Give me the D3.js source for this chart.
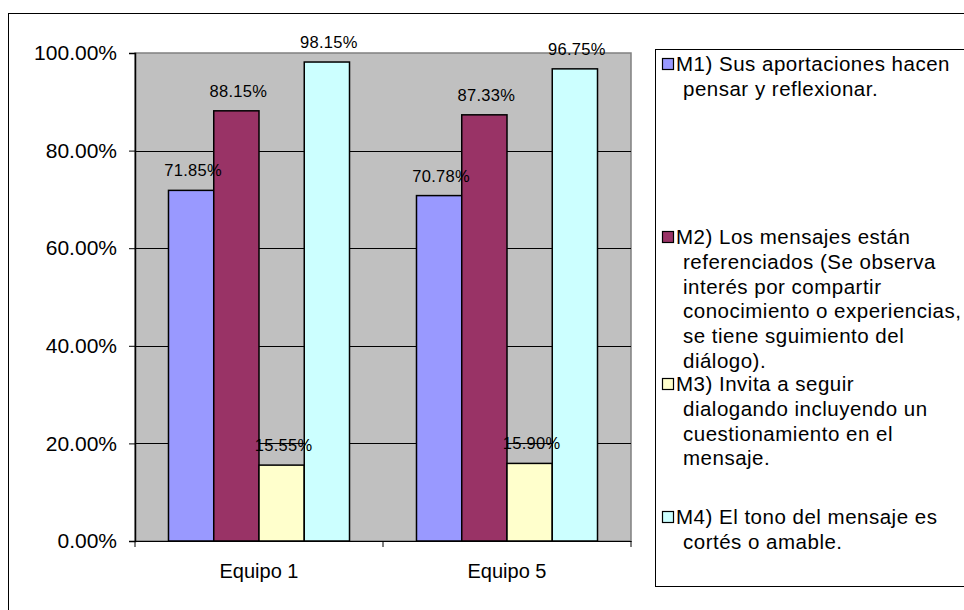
<!DOCTYPE html>
<html>
<head>
<meta charset="utf-8">
<script src="https://cdn.jsdelivr.net/npm/d3@7"></script>
<style>
  body { margin: 0; background: #fff; }
  text { font-family: Arial, "Liberation Sans", sans-serif; fill: #000; }
</style>
</head>
<body>
<svg width="964" height="610"></svg>
<script>
// datos del grafico
var equipos = ["Equipo 1", "Equipo 5"];
var series = ["M1", "M2", "M3", "M4"];
var m1 = [71.85, 70.78];
var m2 = [88.15, 87.33];
var m3 = [15.55, 15.90];
var m4 = [98.15, 96.75];
var ticks = [0, 20, 40, 60, 80, 100];
var leyenda = [
  ["M1) Sus aportaciones hacen", "pensar y reflexionar."],
  ["M2) Los mensajes están", "referenciados (Se observa", "interés por compartir",
   "conocimiento o experiencias,", "se tiene sguimiento del", "diálogo)."],
  ["M3) Invita a seguir", "dialogando incluyendo un", "cuestionamiento en el", "mensaje."],
  ["M4) El tono del mensaje es", "cortés o amable."]
];
var colores = ["#9999ff", "#993366", "#ffffcc", "#ccffff"];

var valores = [m1, m2, m3, m4];

var svg = d3.select("svg"),
  plot = { left: 135, top: 53, right: 631, bottom: 541 };

// marco exterior
svg.append("rect")
  .attr("x", 8.5).attr("y", 13.5)
  .attr("width", 1000).attr("height", 1000)
  .attr("fill", "#fff").attr("stroke", "#000").attr("stroke-width", 1);

var x0 = d3.scaleBand()
  .domain(equipos)
  .range([plot.left, plot.right]);

var x1 = d3.scaleBand()
  .domain(series)
  .range([0, x0.bandwidth()])
  .paddingOuter(0.74);

var y = d3.scaleLinear()
  .domain([0, 100])
  .range([plot.bottom, plot.top]);

// fondo gris
svg.append("rect")
  .attr("x", plot.left).attr("y", plot.top)
  .attr("width", plot.right - plot.left)
  .attr("height", plot.bottom - plot.top)
  .attr("fill", "#c0c0c0")
  .attr("stroke", "#808080").attr("stroke-width", 1.5);

// lineas de cuadricula
svg.append("g").selectAll("line")
  .data(ticks.filter(function(t){ return t > 0 && t < 100; }))
  .enter().append("line")
  .attr("x1", plot.left).attr("x2", plot.right)
  .attr("y1", function(d){ return Math.round(y(d)) + 0.5; })
  .attr("y2", function(d){ return Math.round(y(d)) + 0.5; })
  .attr("stroke", "#000").attr("stroke-width", 1);

// barras
var grupos = svg.append("g").selectAll("g")
  .data(equipos)
  .enter().append("g")
  .attr("transform", function(d){ return "translate(" + x0(d) + ",0)"; });

grupos.selectAll("rect")
  .data(function(d, i){
    return series.map(function(s, j){ return { s: s, v: valores[j][i], c: colores[j] }; });
  })
  .enter().append("rect")
  .attr("x", function(d){ return x1(d.s); })
  .attr("y", function(d){ return y(d.v); })
  .attr("width", x1.bandwidth())
  .attr("height", function(d){ return y(0) - y(d.v); })
  .attr("fill", function(d){ return d.c; })
  .attr("stroke", "#000").attr("stroke-width", 1.5);

grupos.selectAll("text")
  .data(function(d, i){
    return series.map(function(s, j){ return { s: s, v: valores[j][i] }; });
  })
  .enter().append("text")
  .attr("x", function(d){ return x1(d.s) + x1.bandwidth() / 2 + 2; })
  .attr("y", function(d){ return y(d.v) - 14; })
  .attr("text-anchor", "middle")
  .attr("font-size", 16.5)
  .attr("letter-spacing", 0.3)
  .attr("fill", "#000")
  .text(function(d){ return d.v.toFixed(2) + "%"; });

// eje y
var ejeY = svg.append("g")
  .attr("transform", "translate(" + plot.left + ",0)")
  .call(d3.axisLeft(y).tickValues(ticks).tickSize(6).tickPadding(12)
    .tickFormat(function(d){ return d.toFixed(2) + "%"; }));
ejeY.select(".domain").attr("stroke", "#000").attr("stroke-width", 1.5);
ejeY.selectAll("text").attr("font-size", 21).attr("font-family", "Arial, 'Liberation Sans', sans-serif");

// eje x
var ejeX = svg.append("g")
  .attr("transform", "translate(0," + plot.bottom + ")")
  .call(d3.axisBottom(x0).tickSize(0).tickPadding(23));
ejeX.select(".domain").attr("stroke", "#000").attr("stroke-width", 1);
ejeX.selectAll("text").attr("font-size", 20).attr("font-family", "Arial, 'Liberation Sans', sans-serif");
// marcas entre categorias
ejeX.selectAll(".sep")
  .data([plot.left, x0(equipos[1]), plot.right])
  .enter().append("line")
  .attr("x1", function(d){ return d; }).attr("x2", function(d){ return d; })
  .attr("y1", 0).attr("y2", 6)
  .attr("stroke", "#000");

// leyenda
var leg = { x: 655, y: 49, w: 400, h: 537 };
svg.append("rect")
  .attr("x", leg.x + 0.5).attr("y", leg.y + 0.5)
  .attr("width", leg.w).attr("height", leg.h)
  .attr("fill", "#fff").attr("stroke", "#000");

var inicio = [64, 237, 384, 517];
var interlinea = 24.7;
leyenda.forEach(function(lineas, i){
  svg.append("rect")
    .attr("x", 662.5).attr("y", inicio[i] - 5.5)
    .attr("width", 11).attr("height", 11)
    .attr("fill", colores[i]).attr("stroke", "#000").attr("stroke-width", 1.2);
  svg.append("text")
    .attr("x", 676)
    .attr("y", inicio[i])
    .attr("font-size", 20.5)
    .attr("letter-spacing", 0.5)
    .selectAll("tspan")
    .data(lineas)
    .enter().append("tspan")
    .attr("x", function(d, k){ return k === 0 ? 676 : 683; })
    .attr("y", function(d, k){ return inicio[i] + k * interlinea; })
    .attr("dy", "0.35em")
    .text(function(d){ return d; });
});
</script>
</body>
</html>
